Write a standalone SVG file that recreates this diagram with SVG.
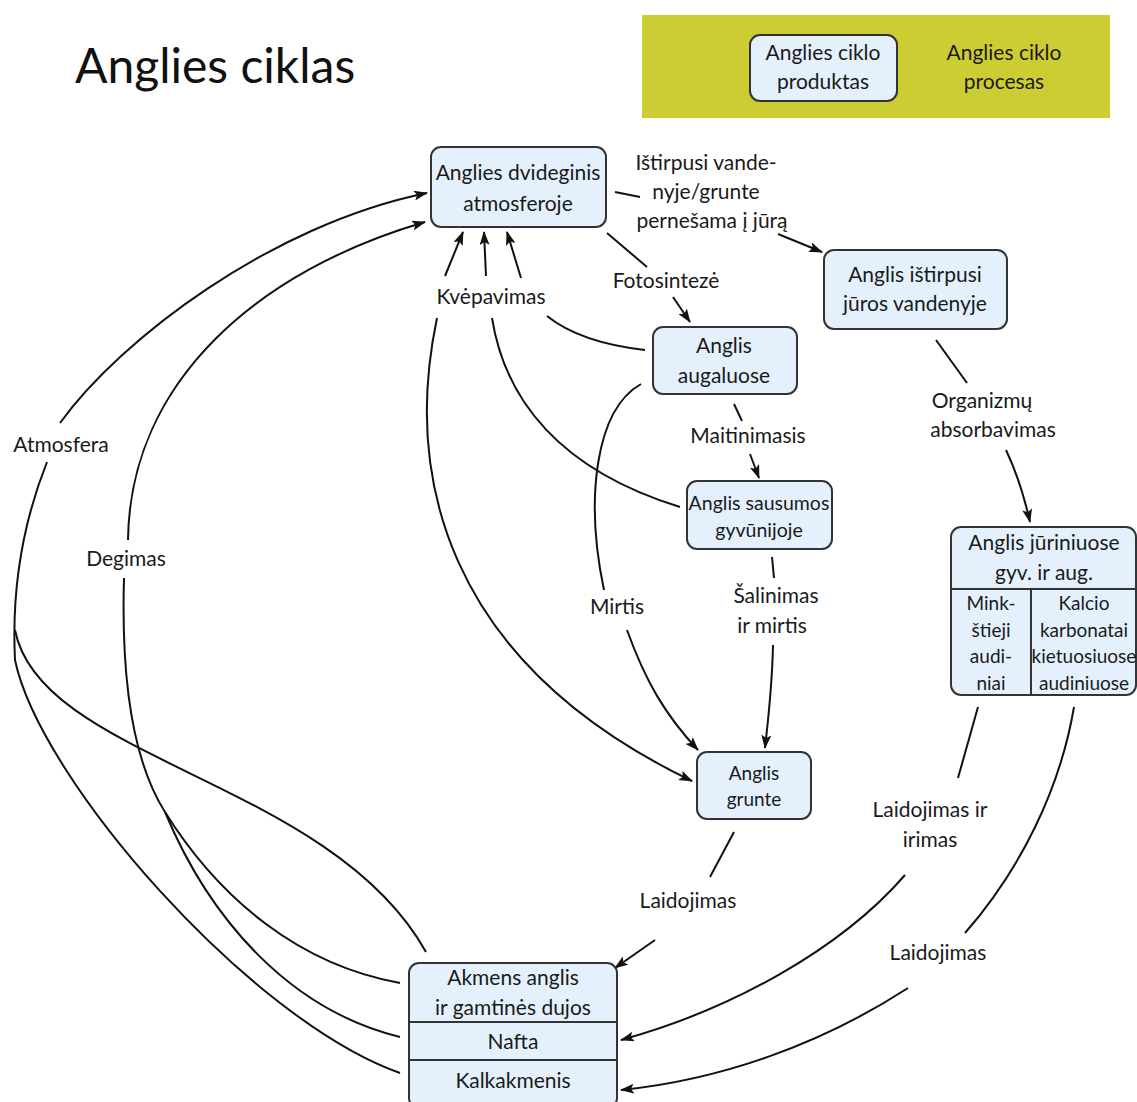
<svg xmlns="http://www.w3.org/2000/svg" width="1137" height="1102" viewBox="0 0 1137 1102">
<defs>
<style>
.box{fill:#e4f1fc;stroke:#333;stroke-width:2}
.div{stroke:#333;stroke-width:2;fill:none}
.t{font-family:Lato,"Liberation Sans",sans-serif;font-size:21px;fill:#1a1a1a;text-anchor:middle}
.s{font-size:19.5px}
.xs{font-size:19px}
.c{fill:none;stroke:#111;stroke-width:2}
.a{marker-end:url(#ah)}
</style>
<marker id="ah" viewBox="0 0 14 10" refX="13" refY="5" markerWidth="14" markerHeight="10" markerUnits="userSpaceOnUse" orient="auto">
<path d="M0,0 L14,5 L0,10 L3,5 Z" fill="#111"/>
</marker>
</defs>
<rect width="1137" height="1102" fill="#fff"/>
<text x="75" y="83" font-family="Lato,'Liberation Sans',sans-serif" font-size="48" fill="#111">Anglies ciklas</text>

<g id="legend">
<rect x="642" y="15" width="468" height="103" fill="#cccc33"/>
<rect class="box" x="750" y="35" width="147" height="66" rx="10"/>
<text class="t" x="823" y="60">Anglies ciklo</text>
<text class="t" x="823" y="89">produktas</text>
<text class="t" x="1004" y="60">Anglies ciklo</text>
<text class="t" x="1004" y="89">procesas</text>
</g>

<g id="connectors">
<!-- dissolved to sea -->
<path class="c" d="M615,192 L640,197"/>
<path class="c a" d="M778,234 L822,252"/>
<!-- photosynthesis -->
<path class="c" d="M607,233 L647,267"/>
<path class="c a" d="M673,297 L690,322"/>
<!-- respiration arrows -->
<path class="c a" d="M445,276 L463,232"/>
<path class="c a" d="M486,276 L484,232"/>
<path class="c a" d="M521,278 Q514,255 507,232"/>
<!-- respiration sources -->
<path class="c" d="M645,350 C610,346 572,336 547,316"/>
<path class="c" d="M680,507 C560,470 505,400 492,318"/>
<path class="c a" d="M437,318 C405,470 440,660 692,781"/>
<!-- Mirtis -->
<path class="c" d="M641,384 C595,410 585,500 604,590"/>
<path class="c a" d="M627,630 C645,680 665,715 698,750"/>
<!-- Maitinimasis -->
<path class="c" d="M734,404 L742,421"/>
<path class="c a" d="M750,454 L759,478"/>
<!-- Šalinimas ir mirtis -->
<path class="c" d="M772,557 L774,578"/>
<path class="c a" d="M773,645 C772,690 768,720 765,748"/>
<!-- Organizmų absorbavimas -->
<path class="c" d="M936,340 L967,383"/>
<path class="c a" d="M1006,450 C1018,475 1025,500 1030,522"/>
<!-- Laidojimas ir irimas -->
<path class="c" d="M978,707 L958,778"/>
<path class="c a" d="M905,875 C840,950 730,1010 621,1040"/>
<!-- Laidojimas right -->
<path class="c" d="M1074,707 C1060,790 1020,870 965,933"/>
<path class="c a" d="M908,988 C820,1045 720,1080 621,1090"/>
<!-- Laidojimas middle -->
<path class="c" d="M734,832 L710,877"/>
<path class="c a" d="M655,940 L615,968"/>
<!-- Atmosfera -->
<path class="c a" d="M60,423 C120,340 270,225 427,193"/>
<path class="c" d="M47,462 C20,530 12,600 15,660 C40,780 250,1020 400,1073"/>
<path class="c" d="M15,630 C40,760 330,780 426,952"/>
<!-- Degimas -->
<path class="c a" d="M128,540 C130,380 260,270 425,222"/>
<path class="c" d="M124,578 C121,680 132,760 165,812"/>
<path class="c" d="M165,812 C220,900 300,965 400,983"/>
<path class="c" d="M165,812 C210,920 290,1010 400,1037"/>
</g>

<g id="co2">
<rect class="box" x="431" y="147" width="175" height="80" rx="10"/>
<text class="t" x="518" y="180">Anglies dvideginis</text>
<text class="t" x="518" y="211">atmosferoje</text>
</g>
<g id="sea">
<rect class="box" x="824" y="250" width="183" height="79" rx="10"/>
<text class="t" x="915" y="282">Anglis ištirpusi</text>
<text class="t" x="915" y="311">jūros vandenyje</text>
</g>
<g id="plants">
<rect class="box" x="653" y="327" width="144" height="67" rx="10"/>
<text class="t" x="724" y="353">Anglis</text>
<text class="t" x="724" y="383">augaluose</text>
</g>
<g id="animals">
<rect class="box" x="687" y="481" width="145" height="68" rx="10"/>
<text class="t s" x="759" y="510">Anglis sausumos</text>
<text class="t s" x="759" y="537">gyvūnijoje</text>
</g>
<g id="marine">
<rect class="box" x="951" y="527" width="185" height="168" rx="10"/>
<line class="div" x1="951" y1="589" x2="1136" y2="589"/>
<line class="div" x1="1031" y1="589" x2="1031" y2="695"/>
<text class="t" x="1044" y="550">Anglis jūriniuose</text>
<text class="t" x="1044" y="580">gyv. ir aug.</text>
<text class="t xs" x="991" y="610">Mink-</text>
<text class="t xs" x="991" y="637">štieji</text>
<text class="t xs" x="991" y="663">audi-</text>
<text class="t xs" x="991" y="690">niai</text>
<text class="t xs" x="1084" y="610">Kalcio</text>
<text class="t xs" x="1084" y="637">karbonatai</text>
<text class="t xs" x="1084" y="663">kietuosiuose</text>
<text class="t xs" x="1084" y="690">audiniuose</text>
</g>
<g id="soil">
<rect class="box" x="697" y="752" width="114" height="67" rx="10"/>
<text class="t xs" x="754" y="780">Anglis</text>
<text class="t xs" x="754" y="806">grunte</text>
</g>
<g id="fossil">
<rect class="box" x="409" y="963" width="208" height="145" rx="10"/>
<line class="div" x1="409" y1="1022" x2="617" y2="1022"/>
<line class="div" x1="409" y1="1060" x2="617" y2="1060"/>
<text class="t" x="513" y="985">Akmens anglis</text>
<text class="t" x="513" y="1015">ir gamtinės dujos</text>
<text class="t" x="513" y="1049">Nafta</text>
<text class="t" x="513" y="1088">Kalkakmenis</text>
</g>

<g id="labels">
<text class="t" x="706" y="170">Ištirpusi vande-</text>
<text class="t" x="706" y="199">nyje/grunte</text>
<text class="t" x="712" y="228">pernešama į jūrą</text>
<text class="t" x="666" y="288">Fotosintezė</text>
<text class="t" x="491" y="304">Kvėpavimas</text>
<text class="t" x="748" y="443">Maitinimasis</text>
<text class="t" x="982" y="408">Organizmų</text>
<text class="t" x="993" y="437">absorbavimas</text>
<text class="t" x="61" y="452">Atmosfera</text>
<text class="t" x="126" y="566">Degimas</text>
<text class="t" x="617" y="614">Mirtis</text>
<text class="t" x="776" y="603">Šalinimas</text>
<text class="t" x="772" y="633">ir mirtis</text>
<text class="t" x="930" y="817">Laidojimas ir</text>
<text class="t" x="930" y="847">irimas</text>
<text class="t" x="688" y="908">Laidojimas</text>
<text class="t" x="938" y="960">Laidojimas</text>
</g>
</svg>
